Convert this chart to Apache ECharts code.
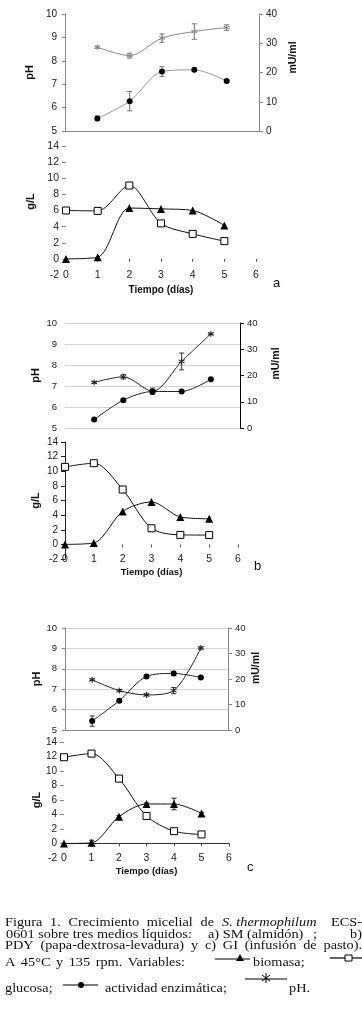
<!DOCTYPE html>
<html>
<head>
<meta charset="utf-8">
<script src="https://cdn.jsdelivr.net/npm/echarts@6/dist/echarts.min.js"></script>
<style>
html, body { margin: 0; padding: 0; background: #fff; }
#chart { width: 362px; height: 1026px; }
</style>
</head>
<body>
<div id="chart"></div>
<script>
// Días de cultivo
const dias = [0, 1, 2, 3, 4, 5];
const diasMuestreo = [1, 2, 3, 4, 5];
// marcas del eje g/L sin la de -2
const marcasGL = [0, 2, 4, 6, 8, 10, 12, 14];

// a) SM (almidón)
const biomasaA = [0, 0.2, 6.3, 6.2, 6.0, 4.15];
const glucosaA = [6.0, 5.95, 9.1, 4.4, 3.1, 2.2];
const enzimaA = [4.3, 10.2, 20.3, 20.9, 17.1];
const enzimaErrA = [0.8, 3.3, 1.7, 0.4, 0.3];
const phA = [8.58, 8.22, 8.97, 9.25, 9.42];
const phErrA = [0.04, 0.1, 0.18, 0.33, 0.12];

// b) PDY (papa-dextrosa-levadura)
const biomasaB = [0, 0.2, 4.5, 5.8, 3.75, 3.5];
const glucosaB = [10.6, 11.1, 7.5, 2.2, 1.3, 1.27];
const enzimaB = [3.2, 10.6, 13.9, 13.9, 18.6];
const enzimaErrB = [0.4, 0.6, 0.5, 0.3, 0.3];
const phB = [7.17, 7.44, 6.75, 8.17, 9.48];
const phErrB = [0.04, 0.1, 0.15, 0.4, 0.04];

// c) GI (infusión de pasto)
const biomasaC = [0, 0.1, 3.7, 5.45, 5.45, 4.15];
const biomasaErrC = [0, 0.35, 0.15, 0.15, 0.8, 0.15];
const glucosaC = [11.9, 12.4, 8.95, 3.8, 1.7, 1.25];
const enzimaC = [3.5, 11.5, 21.0, 22.2, 20.6];
const enzimaErrC = [2.0, 0.5, 0.5, 0.8, 0.4];
const phC = [7.46, 6.93, 6.72, 6.93, 9.02];
const phErrC = [0.04, 0.05, 0.05, 0.15, 0.05];

const ASTERISCO = 'path://M5,0L5,10M0.7,2.5L9.3,7.5M0.7,7.5L9.3,2.5';
const SANS = 'Liberation Sans, Arial, sans-serif';
const SERIF = "'Liberation Serif', 'Times New Roman', serif";

const chart = echarts.init(document.getElementById('chart'), null, { renderer: 'canvas' });

// barras de error como serie custom
function barrasError(xs, ys, errs, xIdx, yIdx, color) {
    return {
        type: 'custom', xAxisIndex: xIdx, yAxisIndex: yIdx, silent: true, z: 1,
        data: xs.map((x, i) => [x, ys[i], errs[i]]),
        renderItem: (params, api) => {
            const x = api.value(0), y = api.value(1), e = api.value(2);
            if (!e) return null;
            const top = api.coord([x, y + e]);
            const bot = api.coord([x, y - e]);
            const w = 2.5;
            const st = { stroke: color, lineWidth: 1 };
            return {
                type: 'group', children: [
                    { type: 'line', shape: { x1: top[0], y1: top[1], x2: bot[0], y2: bot[1] }, style: st },
                    { type: 'line', shape: { x1: top[0] - w, y1: top[1], x2: top[0] + w, y2: top[1] }, style: st },
                    { type: 'line', shape: { x1: bot[0] - w, y1: bot[1], x2: bot[0] + w, y2: bot[1] }, style: st }
                ]
            };
        }
    };
}

function serieLinea(xs, ys, xIdx, yIdx, kind, lineColor) {
    const s = {
        type: 'line', xAxisIndex: xIdx, yAxisIndex: yIdx, smooth: 0.3, z: 3,
        data: xs.map((x, i) => [x, ys[i]]),
        lineStyle: { color: lineColor, width: 1 },
        emphasis: { disabled: true }, animation: false
    };
    if (kind === 'tri') {
        s.symbol = 'triangle'; s.symbolSize = 8;
        s.itemStyle = { color: '#000' };
    } else if (kind === 'sq') {
        s.symbol = 'rect'; s.symbolSize = 7;
        s.itemStyle = { color: '#fff', borderColor: '#000', borderWidth: 1 };
    } else if (kind === 'dot') {
        s.symbol = 'circle'; s.symbolSize = 6;
        s.itemStyle = { color: '#000' };
    } else {
        s.symbol = ASTERISCO; s.symbolSize = 6;
        s.itemStyle = { color: 'rgba(0,0,0,0)', borderColor: lineColor, borderWidth: 1 };
    }
    return s;
}

// ejes
function ejeXSuperior(grid, lineColor) {
    return {
        gridIndex: grid, type: 'value', min: 0, max: 6, interval: 1,
        axisLine: { show: !!lineColor, onZero: false, lineStyle: { color: lineColor || '#000' } },
        axisTick: { show: false }, axisLabel: { show: false }, splitLine: { show: false }
    };
}
function ejeXInferior(grid, yIdx, showLine, fs, gap) {
    return {
        gridIndex: grid, type: 'value', min: 0, max: 6, interval: 1,
        name: 'Tiempo (días)', nameLocation: 'middle', nameGap: gap,
        nameTextStyle: { fontFamily: SANS, fontWeight: 'bold', fontSize: fs, color: '#111' },
        axisLine: { show: showLine, onZero: true, onZeroAxisIndex: yIdx, lineStyle: { color: '#333' } },
        axisTick: { show: true, length: 3, lineStyle: { color: '#555' } },
        axisLabel: { fontFamily: SANS, fontSize: 10.5, color: '#222', margin: -5 },
        splitLine: { show: false }
    };
}
function ejePH(grid, opts) {
    return {
        gridIndex: grid, type: 'value', position: 'left', min: 5, max: 10, interval: 1,
        name: 'pH', nameLocation: 'middle', nameGap: opts.gap, nameRotate: 90,
        nameTextStyle: { fontFamily: SANS, fontWeight: 'bold', fontSize: 11, color: '#111' },
        axisLine: { show: opts.line, onZero: false, lineStyle: { color: '#888' } },
        axisTick: { show: opts.line, length: 3, lineStyle: { color: '#888' } },
        axisLabel: { fontFamily: SANS, fontSize: opts.fs, color: '#222', margin: 8 },
        splitLine: { show: opts.split, lineStyle: { color: '#d4d4d4' } }
    };
}
function ejeMU(grid, opts) {
    return {
        gridIndex: grid, type: 'value', position: 'right', min: 0, max: 40, interval: 10,
        name: 'mU/ml', nameLocation: 'middle', nameGap: opts.gap, nameRotate: 90,
        nameTextStyle: { fontFamily: SANS, fontWeight: 'bold', fontSize: 10.5, color: '#111', padding: opts.pad },
        axisLine: { show: true, onZero: false, lineStyle: { color: opts.color } },
        axisTick: { show: true, length: 4, lineStyle: { color: opts.color } },
        axisLabel: { fontFamily: SANS, fontSize: opts.fs, color: '#222', margin: 7 },
        splitLine: { show: false }
    };
}
function ejeGL(grid, opts) {
    const tick = { show: true, length: 4, lineStyle: { color: opts.line ? '#222' : '#888' } };
    if (!opts.line) tick.customValues = marcasGL;
    return {
        gridIndex: grid, type: 'value', min: -2, max: 14, interval: 2,
        name: 'g/L', nameLocation: 'middle', nameGap: opts.gap, nameRotate: 90,
        nameTextStyle: { fontFamily: SANS, fontWeight: 'bold', fontSize: 11, color: '#111', padding: opts.pad || 0 },
        axisLine: { show: opts.line, onZero: false, lineStyle: { color: '#222' } },
        axisTick: tick,
        axisLabel: { fontFamily: SANS, fontSize: opts.fs, color: '#222', margin: 7 },
        splitLine: { show: false }
    };
}

// leyenda dentro del pie de figura
function glifos() {
    const g = [];
    const ln = (x1, y1, x2, y2, w) => g.push({ type: 'line', shape: { x1, y1, x2, y2 }, style: { stroke: '#000', lineWidth: w || 1 } });
    ln(215, 959, 250, 959, 1.2);
    g.push({ type: 'polygon', shape: { points: [[240, 954], [236, 961], [244, 961]] }, style: { fill: '#000' } });
    ln(330, 958, 362, 958, 1.2);
    g.push({ type: 'rect', shape: { x: 345, y: 955, width: 7, height: 6 }, style: { fill: '#fff', stroke: '#000', lineWidth: 1 } });
    ln(63, 985, 98, 985, 1.2);
    g.push({ type: 'circle', shape: { cx: 81, cy: 985, r: 3 }, style: { fill: '#000' } });
    ln(245, 979, 287, 979, 1);
    ln(266, 973, 266, 983); ln(262, 975, 270, 981); ln(262, 981, 270, 975);
    return g;
}

// pie de figura (texto justificado: el espacio sobrante se reparte entre palabras)
const ESCALA = 1.1;
const pie = [
    { t: 'Figura 1. Crecimiento micelial de', x: 5, x2: 214, y: 923 },
    { t: 'S. thermophilum', x: 222, y: 923, it: true },
    { t: 'ECS-', x2: 362, y: 923 },
    { t: '0601 sobre tres medios líquidos:', x: 6, y: 934.5 },
    { t: 'a) SM (almidón)', x: 208, y: 934.5 },
    { t: ';', x: 313, y: 934.5 },
    { t: 'b)', x2: 362, y: 934.5 },
    { t: 'PDY (papa-dextrosa-levadura) y c) GI (infusión de pasto).', x: 5, x2: 362, y: 946 },
    { t: 'A 45°C y 135 rpm. Variables:', x: 5, x2: 185, y: 963 },
    { t: 'biomasa;', x: 253, y: 963 },
    { t: 'glucosa;', x: 5, y: 989 },
    { t: 'actividad enzimática;', x: 105, y: 989 },
    { t: 'pH.', x: 289, y: 989 }
];

const letras = [
    { t: 'a', x: 273, y: 283 },
    { t: 'b', x: 254, y: 566 },
    { t: 'c', x: 247, y: 867 }
];

const medidor = document.createElement('canvas').getContext('2d');
function ancho(txt, font) {
    medidor.font = font;
    return medidor.measureText(txt).width * ESCALA;
}

function textoPie(p) {
    const font = (p.it ? 'italic ' : '') + '13px ' + SERIF;
    const palabras = p.t.split(' ');
    const anchos = palabras.map(w => ancho(w, font));
    let hueco = ancho(' ', font);
    const total = anchos.reduce((a, b) => a + b, 0) + hueco * (palabras.length - 1);
    let x = p.x;
    if (p.x == null) x = p.x2 - total;
    else if (p.x2 != null && palabras.length > 1) hueco = (p.x2 - p.x - (total - hueco * (palabras.length - 1))) / (palabras.length - 1);
    return palabras.map((w, i) => {
        const el = {
            type: 'text', x: x, y: p.y, scaleX: ESCALA,
            style: { text: w, font: font, fill: '#111', verticalAlign: 'middle' }
        };
        x += anchos[i] + hueco;
        return el;
    });
}

const graphic = glifos()
    .concat(...pie.map(textoPie))
    .concat(letras.map(p => ({
        type: 'text', x: p.x, y: p.y,
        style: { text: p.t, font: '13px ' + SANS, fill: '#111', verticalAlign: 'middle' }
    })));

const option = {
    animation: false,
    backgroundColor: '#fff',
    grid: [
        { left: 65, top: 14, width: 194, height: 117 },
        { left: 66, top: 146, width: 190, height: 129 },
        { left: 65, top: 323, width: 175, height: 105 },
        { left: 65, top: 442, width: 173, height: 117 },
        { left: 65, top: 628, width: 163, height: 102 },
        { left: 64, top: 742, width: 165, height: 116 }
    ],
    xAxis: [
        ejeXSuperior(0, '#888'),
        ejeXInferior(1, 2, false, 10, 10),
        ejeXSuperior(2, null),
        ejeXInferior(3, 5, false, 9.5, 8),
        ejeXSuperior(4, '#888'),
        ejeXInferior(5, 8, true, 9.5, 8.5)
    ],
    yAxis: [
        ejePH(0, { gap: 21, line: true, split: false, fs: 10 }),
        ejeMU(0, { gap: 28, color: '#888', fs: 10, pad: [0, 0, 0, 30] }),
        ejeGL(1, { gap: 22, line: false, fs: 10.5, pad: [0, 0, 0, 18] }),
        ejePH(2, { gap: 24, line: false, split: true, fs: 9.5 }),
        ejeMU(2, { gap: 31, color: '#000', fs: 9.5, pad: [0, 0, 0, 24] }),
        ejeGL(3, { gap: 24, line: true, fs: 10 }),
        ejePH(4, { gap: 21, line: true, split: true, fs: 9.5 }),
        ejeMU(4, { gap: 23, color: '#888', fs: 9.5, pad: [0, 0, 0, 22] }),
        ejeGL(5, { gap: 21, line: false, fs: 10 })
    ],
    series: [
        // a
        barrasError(diasMuestreo, phA, phErrA, 0, 0, '#777'),
        barrasError(diasMuestreo, enzimaA, enzimaErrA, 0, 1, '#777'),
        serieLinea(diasMuestreo, phA, 0, 0, 'ast', '#888'),
        serieLinea(diasMuestreo, enzimaA, 0, 1, 'dot', '#999'),
        serieLinea(dias, glucosaA, 1, 2, 'sq', '#111'),
        serieLinea(dias, biomasaA, 1, 2, 'tri', '#111'),
        // b
        barrasError(diasMuestreo, phB, phErrB, 2, 3, '#333'),
        barrasError(diasMuestreo, enzimaB, enzimaErrB, 2, 4, '#333'),
        serieLinea(diasMuestreo, phB, 2, 3, 'ast', '#222'),
        serieLinea(diasMuestreo, enzimaB, 2, 4, 'dot', '#222'),
        serieLinea(dias, glucosaB, 3, 5, 'sq', '#111'),
        serieLinea(dias, biomasaB, 3, 5, 'tri', '#111'),
        // c
        barrasError(diasMuestreo, phC, phErrC, 4, 6, '#333'),
        barrasError(diasMuestreo, enzimaC, enzimaErrC, 4, 7, '#333'),
        serieLinea(diasMuestreo, phC, 4, 6, 'ast', '#222'),
        serieLinea(diasMuestreo, enzimaC, 4, 7, 'dot', '#222'),
        serieLinea(dias, glucosaC, 5, 8, 'sq', '#111'),
        barrasError(dias, biomasaC, biomasaErrC, 5, 8, '#222'),
        serieLinea(dias, biomasaC, 5, 8, 'tri', '#111')
    ],
    graphic: graphic
};

chart.setOption(option);
</script>
</body>
</html>
